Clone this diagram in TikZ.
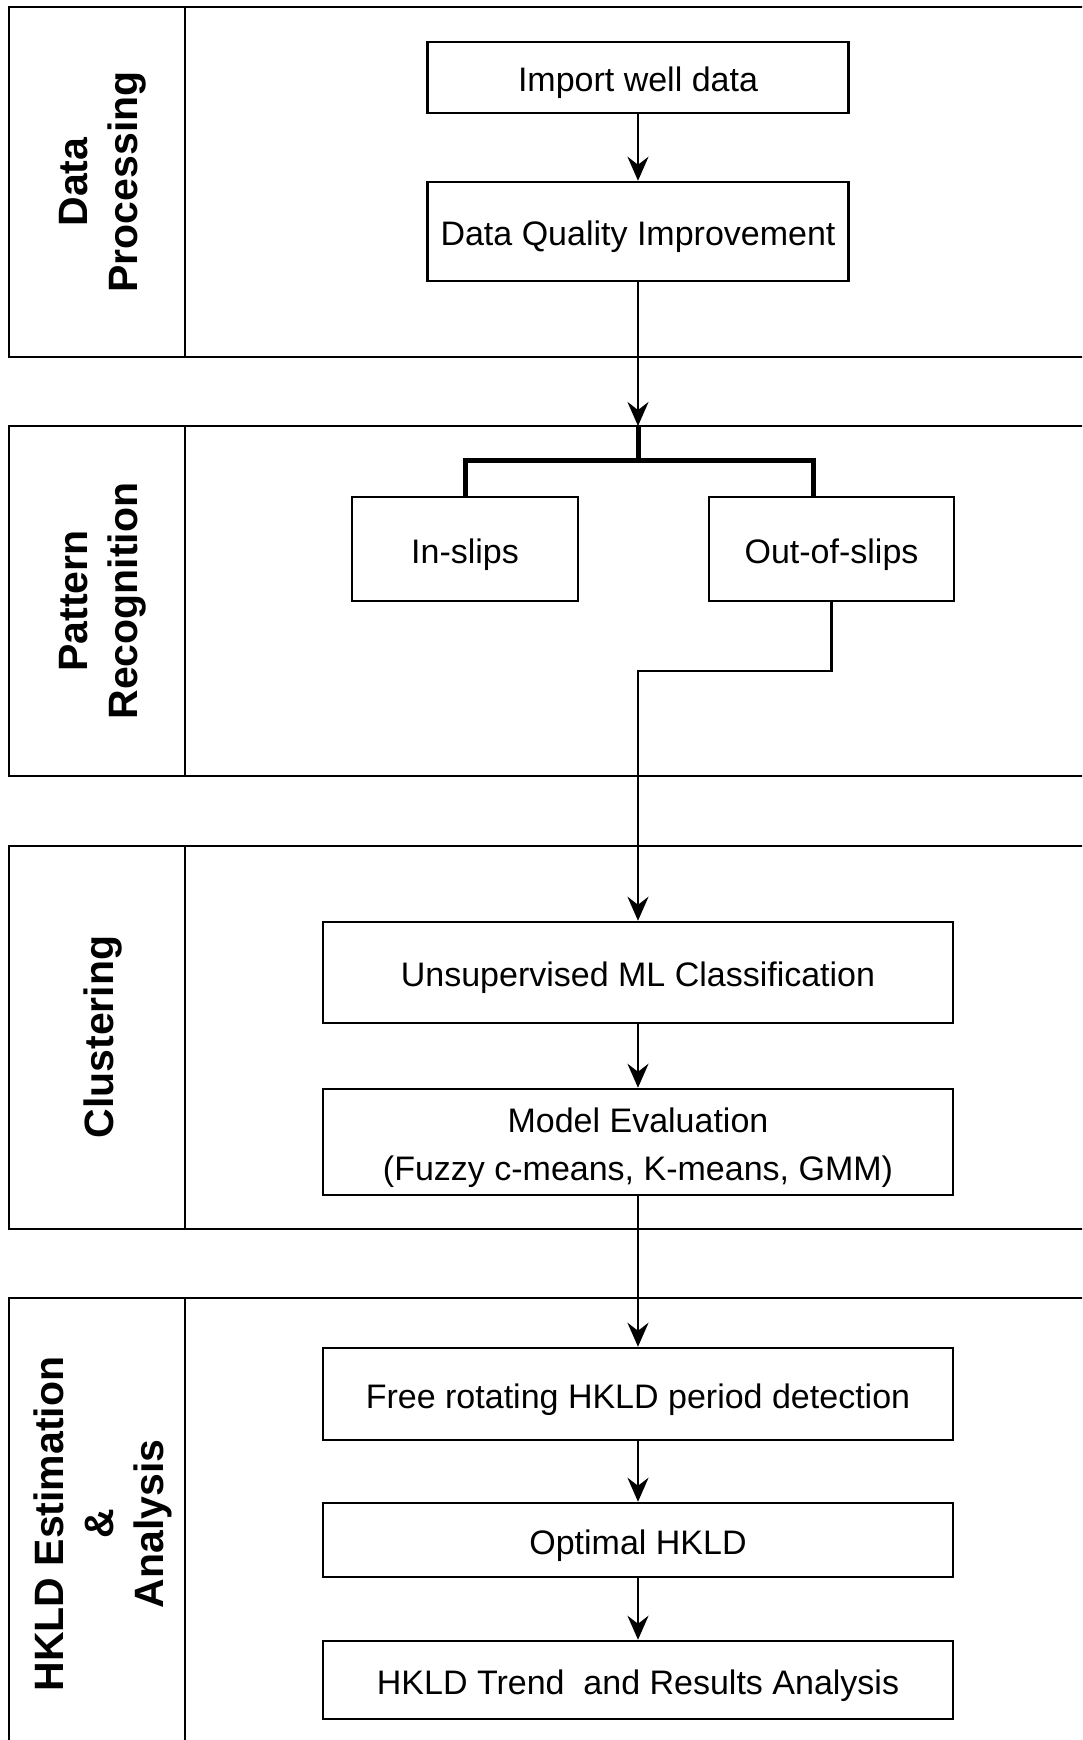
\documentclass[tikz,border=0pt]{standalone}
\usepackage{fontspec}
\setmainfont{Liberation Sans}
\usetikzlibrary{arrows.meta}

\begin{document}
\begin{tikzpicture}[x=1pt,y=-1pt]
% Styles
\tikzstyle{fleche}=[-{Stealth[length=24pt,width=21pt,inset=8pt]},line width=2.5]
\tikzstyle{accolade}=[line width=5]
\tikzstyle{couloir}=[line width=2.5]
\tikzstyle{boite}=[draw,line width=2.5,inner sep=0pt,align=center,text height=28pt,text depth=0pt,font=\fontsize{34}{48}\selectfont]
\tikzstyle{titre}=[rotate=90,align=center,font=\bfseries\fontsize{41}{50}\selectfont]
% Dimensions
\def\Xc{638}
\def\Xsep{185}
\def\Xfin{1100}
\def\Xtitre{103}
\def\LargeurA{421}
\def\LargeurB{630}
% Cadre
\clip (0,0) rectangle (1082,1740);
\fill[white] (0,0) rectangle (1082,1740);
% Couloirs
\draw[couloir] (9,7) rectangle (\Xfin,357) (\Xsep,7) -- (\Xsep,357);
\draw[couloir] (9,426) rectangle (\Xfin,776) (\Xsep,426) -- (\Xsep,776);
\draw[couloir] (9,846) rectangle (\Xfin,1229) (\Xsep,846) -- (\Xsep,1229);
\draw[couloir] (9,1298) rectangle (\Xfin,1760) (\Xsep,1298) -- (\Xsep,1760);
% Titres des couloirs
\node[titre] (tDP) at (\Xtitre,182) {Data\\Processing};
\node[titre] (tPR) at (\Xtitre,601) {Pattern\\Recognition};
\node[titre] (tCL) at (\Xtitre,1037) {Clustering};
\node[titre] (tHK) at (\Xtitre,1524) {HKLD Estimation\\\&\\Analysis};
% Noeuds
\node[boite,minimum width=\LargeurA pt,minimum height=71pt] (import) at (\Xc,77.5) {Import well data};
\node[boite,minimum width=\LargeurA pt,minimum height=99pt] (dqi) at (\Xc,231.5) {Data Quality Improvement};
\node[boite,minimum width=226pt,minimum height=104pt] (insl) at (465,549) {In-slips};
\node[boite,minimum width=245pt,minimum height=104pt] (outsl) at (831.5,549) {Out-of-slips};
\node[boite,minimum width=\LargeurB pt,minimum height=101pt] (unsup) at (\Xc,972.5) {Unsupervised ML Classification};
\node[boite,minimum width=\LargeurB pt,minimum height=106pt,text height=76pt,text depth=0pt] (eval) at (\Xc,1142) {Model Evaluation\\(Fuzzy c-means, K-means, GMM)};
\node[boite,minimum width=\LargeurB pt,minimum height=92pt] (libre) at (\Xc,1394) {Free rotating HKLD period detection};
\node[boite,minimum width=\LargeurB pt,minimum height=74pt] (optim) at (\Xc,1540) {Optimal HKLD};
\node[boite,minimum width=\LargeurB pt,minimum height=78pt] (trend) at (\Xc,1680) {HKLD Trend~ and Results Analysis};
% Points de passage
\coordinate (entree) at (\Xc,426);
\coordinate (jonction) at (\Xc,460);
\coordinate (brG) at (465,460);
\coordinate (brD) at (813,460);
\coordinate (coude) at (\Xc,671);
% Arcs
\draw[fleche] (import) -- (dqi);
\draw[fleche] (dqi) -- (entree);
\draw[accolade] (entree) -- (jonction);
\draw[accolade] (insl.north) -- (brG) -- (brD) -- (brD |- outsl.north);
\draw[fleche] (outsl.south) |- (coude) -- (unsup.north);
\draw[fleche] (unsup) -- (eval);
\draw[fleche] (eval) -- (libre);
\draw[fleche] (libre) -- (optim);
\draw[fleche] (optim) -- (trend);
\end{tikzpicture}
\end{document}
